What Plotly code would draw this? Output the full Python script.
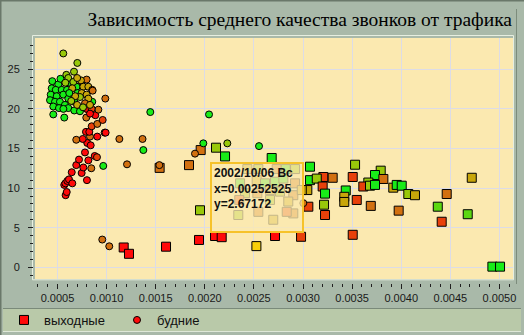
import plotly.graph_objects as go

# --- palette used for point colouring ---
PAL = {
    "R": "#ff0a0a", "RO": "#e8400a", "O": "#d27010", "DY": "#c8a60a",
    "Y": "#f8d00a", "YG": "#98c80a", "LG": "#5cd812", "G": "#18ec18",
}

# --- weekdays (будние) ---
wd_x = [0.000583, 0.000594, 0.000569, 0.000580, 0.000600, 0.000617, 0.000651, 0.000645,
        0.000746, 0.000800, 0.000691, 0.000763, 0.000844, 0.000719, 0.000814, 0.000780,
        0.000879, 0.000902, 0.000803, 0.000838, 0.000757, 0.000691, 0.000831, 0.000905,
        0.000790, 0.000824, 0.000980, 0.000990, 0.000848, 0.000905, 0.000960, 0.000885,
        0.000814, 0.000916, 0.000793, 0.000797, 0.000848, 0.000831,
        0.000956, 0.001027, 0.000966, 0.001208, 0.001537, 0.001130, 0.001366, 0.001374,
        0.000987, 0.001445, 0.002043, 0.001985, 0.002229, 0.002552, 0.001900, 0.003003,
        0.000559, 0.000702, 0.000668, 0.000590, 0.000447, 0.000508, 0.000441, 0.000482,
        0.000543, 0.000597, 0.000431, 0.000492, 0.000559, 0.000610, 0.000424, 0.000475,
        0.000525, 0.000576, 0.000457, 0.000515, 0.000610, 0.000457, 0.000569, 0.000671,
        0.000729, 0.000637, 0.000695, 0.000705, 0.000671, 0.000854, 0.000610, 0.000661,
        0.000746, 0.000797, 0.000739, 0.000763, 0.000814, 0.000854, 0.000858, 0.000746,
        0.000797, 0.000729, 0.000814, 0.000780, 0.000831, 0.000650, 0.000680, 0.000640,
        0.000700, 0.000760, 0.000530, 0.000580, 0.000620, 0.000700, 0.000560]
wd_y = [9.1, 9.5, 10.4, 10.6, 10.9, 11.1, 10.6, 12.0,
        11.9, 11.0, 12.9, 12.6, 12.5, 13.6, 13.5, 14.5,
        14.05, 13.9, 15.7, 15.4, 16.2, 16.1, 16.5, 16.5,
        17.1, 17.1, 17.0, 17.0, 17.8, 18.1, 18.6, 19.2,
        19.9, 19.9, 18.9, 20.0, 20.0, 19.4,
        3.5, 2.65, 12.8, 13.0, 12.9, 16.2, 16.2, 14.8,
        21.3, 19.6, 19.3, 15.65, 15.65, 15.3, 14.35, 8.1,
        27.0, 25.8, 24.7, 24.3, 23.5, 23.1, 22.6, 22.4,
        22.4, 22.4, 21.8, 21.6, 21.8, 21.3, 21.1, 20.9,
        20.9, 20.5, 20.3, 20.1, 20.1, 19.3, 18.9, 19.8,
        19.7, 23.2, 22.8, 22.0, 20.9, 20.9, 23.9, 23.4,
        23.4, 23.7, 23.6, 22.8, 22.8, 22.4, 22.3, 22.0,
        21.8, 21.5, 21.3, 20.7, 20.5, 22.6, 21.6, 21.0,
        20.5, 20.2, 23.8, 23.3, 22.0, 23.9, 20.0]
wd_c = ["R", "R", "R", "R", "R", "R", "R", "R",
        "R", "R", "R", "R", "O", "R", "R", "R",
        "R", "RO", "R", "R", "R", "O", "O", "R",
        "R", "R", "RO", "R", "RO", "O", "RO", "R",
        "RO", "O", "O", "R", "RO", "R",
        "O", "O", "G", "O", "O", "O", "O", "G",
        "O", "G", "G", "G", "YG", "G", "O", "O",
        "YG", "YG", "YG", "YG", "G", "G", "G", "G",
        "G", "G", "G", "G", "G", "G", "G", "G",
        "G", "G", "G", "G", "G", "G", "G", "G",
        "G", "G", "G", "G", "G", "G", "YG", "YG",
        "DY", "O", "DY", "DY", "DY", "O", "O", "DY",
        "DY", "YG", "DY", "O", "DY", "DY", "DY", "YG",
        "DY", "YG", "G", "YG", "G", "DY", "G"]

# --- weekends (выходные) ---
we_x = [0.001174, 0.001228, 0.001605, 0.001540, 0.001839, 0.001958, 0.002114, 0.002206,
        0.001951, 0.001941, 0.002104, 0.002172, 0.002715, 0.002980,
        0.002681, 0.003071, 0.003071, 0.003044, 0.003054, 0.003207, 0.003140, 0.003302,
        0.003200, 0.003224, 0.003214, 0.003224, 0.003530, 0.003506, 0.003435, 0.003420,
        0.003420, 0.003547, 0.003506, 0.003690, 0.003791, 0.003733, 0.003818, 0.003665,
        0.003614, 0.003682, 0.003733, 0.003919, 0.003954, 0.004005, 0.004072, 0.004140,
        0.003974, 0.004718, 0.004463, 0.004372, 0.004412, 0.004677, 0.004928, 0.005006,
        0.002359, 0.002433, 0.002545, 0.002732, 0.002824, 0.002919, 0.002528, 0.002613,
        0.002715, 0.002800, 0.002919, 0.002409, 0.002535, 0.002664, 0.002766, 0.002901,
        0.002351, 0.002664, 0.002850, 0.002901, 0.002341, 0.002545, 0.002697, 0.002834,
        0.002987,
        0.00252525]
we_y = [2.5, 1.7, 2.6, 12.55, 12.9, 14.8, 15.1, 14.0,
        7.2, 3.45, 3.95, 3.8, 3.95, 3.85,
        13.8, 12.7, 11.0, 9.75, 7.65, 11.4, 11.2, 11.3,
        10.2, 9.3, 7.9, 6.6, 12.95, 11.4, 9.7, 8.9,
        8.25, 8.5, 4.1, 7.75, 12.2, 11.65, 11.15, 10.7,
        10.2, 10.3, 10.4, 10.05, 10.4, 10.3, 9.25, 9.1,
        7.15, 11.3, 9.25, 7.65, 5.75, 6.7, 0.08, 0.08,
        10.6, 12.4, 12.4, 12.4, 12.4, 12.4, 11.0, 10.6,
        10.8, 11.2, 10.6, 9.35, 9.35, 9.75, 9.55, 9.1,
        8.5, 8.5, 8.3, 6.8, 6.6, 7.0, 6.0, 7.0,
        9.75,
        2.67172]
we_c = ["R", "R", "R", "O", "O", "O", "YG", "G",
        "YG", "R", "R", "R", "R", "RO",
        "G", "G", "G", "DY", "RO", "RO", "YG", "O",
        "RO", "G", "YG", "RO", "YG", "RO", "G", "DY",
        "DY", "RO", "RO", "O", "YG", "G", "O", "YG",
        "RO", "YG", "G", "DY", "G", "G", "YG", "DY",
        "O", "DY", "O", "LG", "RO", "LG", "G", "G",
        "G", "DY", "YG", "O", "G", "YG", "DY", "G",
        "G", "G", "O", "YG", "O", "DY", "YG", "O",
        "RO", "YG", "DY", "O", "YG", "O", "DY", "RO",
        "DY",
        "Y"]

tip_date = "2002/10/06 Вс"
tip_x, tip_y = we_x[-1], we_y[-1]

x_ticks = [0.0005, 0.0010, 0.0015, 0.0020, 0.0025, 0.0030, 0.0035, 0.0040, 0.0045, 0.0050]
y_ticks = [0, 5, 10, 15, 20, 25]

W, H = 524, 335
ML, MR, MT, MB = 33, 11, 38, 52
PW, PH = W - ML - MR, H - MT - MB


def px(x):
    return (x - ML) / PW


def py(y):
    return (H - MB - y) / PH


fig = go.Figure()
fig.add_trace(go.Scatter(
    x=we_x, y=we_y, mode="markers", name="выходные",
    marker=dict(symbol="square", size=9, color=[PAL[c] for c in we_c],
                line=dict(color="black", width=1)),
))
fig.add_trace(go.Scatter(
    x=wd_x, y=wd_y, mode="markers", name="будние",
    marker=dict(symbol="circle", size=7, color=[PAL[c] for c in wd_c],
                line=dict(color="black", width=1)),
))

axis_font = dict(family="Liberation Sans, Arial, sans-serif", size=11, color="#1a1a1a")
fig.update_xaxes(
    range=[0.000271, 0.005138], domain=[2 / PW, 1], anchor="free", position=0,
    tickvals=x_ticks, tickformat=".4f", ticks="outside", ticklen=5, tickcolor="#202020",
    minor=dict(dtick=0.0001, tick0=0, ticks="outside", ticklen=3, tickcolor="#202020", showgrid=False),
    showgrid=True, gridcolor="#dcdce6", gridwidth=1, zeroline=False, showline=False,
    tickfont=axis_font,
)
fig.update_yaxes(
    range=[-1.48, 28.95], domain=[4 / PH, 1], anchor="free", position=0,
    tickvals=y_ticks, ticks="outside", ticklen=5, tickcolor="#202020", ticklabelstandoff=6,
    minor=dict(dtick=1, tick0=0, ticks="outside", ticklen=3, tickcolor="#202020", showgrid=False),
    showgrid=True, gridcolor="#dcdce6", gridwidth=1, zeroline=False, showline=False,
    tickfont=axis_font,
)

shapes = [
    # legend panel
    dict(type="rect", xref="paper", yref="paper", x0=px(3), x1=px(521), y0=py(332), y1=py(308),
         fillcolor="#b9c9a9", line=dict(width=0), layer="below"),
    dict(type="line", xref="paper", yref="paper", x0=px(3), x1=px(521), y0=py(308.5), y1=py(308.5),
         line=dict(color="#7a8a7a", width=1)),
    dict(type="line", xref="paper", yref="paper", x0=px(3), x1=px(521), y0=py(331.5), y1=py(331.5),
         line=dict(color="#dfe8d8", width=1)),
    # frame around plotting area
    dict(type="rect", xref="paper", yref="paper", x0=px(32.5), x1=px(513.5), y0=py(279.8), y1=py(35.5),
         line=dict(color="#e6eee0", width=1), layer="below"),
    dict(type="line", xref="paper", yref="paper", x0=px(516.5), x1=px(516.5), y0=py(284), y1=py(9),
         line=dict(color="#7c8c7c", width=1)),
    # outer border of the panel
    dict(type="line", xref="paper", yref="paper", x0=px(0), x1=px(524), y0=py(0.5), y1=py(0.5),
         line=dict(color="#6a786a", width=2)),
    dict(type="line", xref="paper", yref="paper", x0=px(0.5), x1=px(0.5), y0=py(0), y1=py(335),
         line=dict(color="#6a786a", width=2)),
]

fig.add_annotation(
    x=tip_x, y=tip_y, xref="x", yref="y", showarrow=False,
    xanchor="left", yanchor="top", xshift=-46, yshift=84,
    text=f"{tip_date}<br>x={tip_x}<br>y={tip_y}",
    align="left", valign="top", width=86, height=63, borderpad=2,
    bordercolor="#f6c22a", borderwidth=2, bgcolor="rgba(251,233,176,0.78)",
    font=dict(family="Liberation Sans, Arial, sans-serif", size=12, color="#111111", weight="bold"),
)

fig.update_layout(
    width=W, height=H,
    margin=dict(l=ML, r=MR, t=MT, b=MB, pad=0, autoexpand=False),
    paper_bgcolor="#a9b9a9", plot_bgcolor="#fbe9b0",
    title=dict(
        text="Зависимость среднего качества звонков от трафика",
        x=512 / W, xanchor="right", xref="container",
        y=1 - 19 / H, yanchor="middle", yref="container",
        font=dict(family="Liberation Serif, serif", size=19.5, color="black"),
    ),
    showlegend=True,
    legend=dict(
        orientation="h", xref="container", yref="container",
        x=4 / W, xanchor="left", y=1 - 320 / H, yanchor="middle",
        bgcolor="rgba(0,0,0,0)", borderwidth=0, entrywidth=68,
        font=dict(family="Liberation Sans, Arial, sans-serif", size=13, color="#111111"),
    ),
    shapes=shapes,
)

fig.write_html("out.html")
